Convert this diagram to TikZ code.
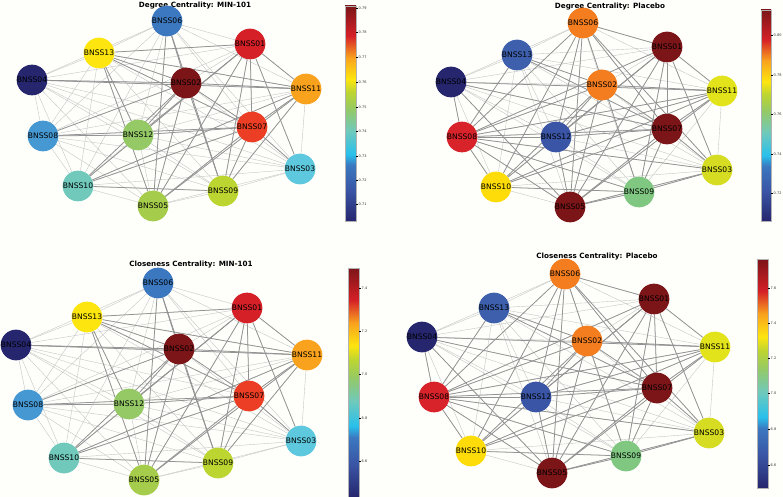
\documentclass[tikz,border=0pt]{standalone}
\usepackage{fontspec}
\setmainfont{DejaVu Sans}
\usetikzlibrary{backgrounds}

\definecolor{bgcol}{RGB}{254,254,251}
\definecolor{cnavy}{RGB}{38,38,110}
\definecolor{cblue}{RGB}{59,120,192}
\definecolor{clblue}{RGB}{70,152,210}
\definecolor{ccyan}{RGB}{94,200,222}
\definecolor{cteal}{RGB}{112,201,187}
\definecolor{clgreen}{RGB}{148,201,102}
\definecolor{cygA}{RGB}{165,204,74}
\definecolor{cygB}{RGB}{189,213,48}
\definecolor{cyellow}{RGB}{253,229,15}
\definecolor{corange}{RGB}{249,162,30}
\definecolor{credor}{RGB}{236,62,36}
\definecolor{cred}{RGB}{213,32,39}
\definecolor{cdred}{RGB}{124,21,24}
\definecolor{porange}{RGB}{244,125,32}
\definecolor{pblue}{RGB}{61,95,172}
\definecolor{pblueB}{RGB}{58,85,165}
\definecolor{plyellow}{RGB}{226,227,26}
\definecolor{pygreen}{RGB}{213,220,34}
\definecolor{pred}{RGB}{216,35,42}
\definecolor{pyellow}{RGB}{253,220,10}
\definecolor{pgreen}{RGB}{128,200,130}
\definecolor{sblue}{RGB}{58,84,164}
\definecolor{scyan}{RGB}{40,192,236}

\pgfdeclareverticalshading{jetbar}{100bp}{color(0bp)=(cnavy); color(25bp)=(cnavy);
  color(32bp)=(sblue); color(38bp)=(cblue); color(40.5bp)=(scyan); color(46bp)=(cteal);
  color(51bp)=(clgreen); color(55bp)=(cygB); color(58bp)=(cyellow); color(63bp)=(corange);
  color(68bp)=(cred); color(75bp)=(cdred); color(100bp)=(cdred)}

\newcommand{\ids}{01,02,03,04,05,06,07,08,09,10,11,12,13}
\newcommand{\minedges}{13/01,13/02,13/11,13/07,13/12,13/05,02/11,02/07,02/08,02/12,02/05,
  02/09,02/06,02/10,01/07,01/11,01/09,01/12,01/03,01/05,01/10,08/12,08/07,12/07,10/09,
  10/07,10/11,05/07,05/11,05/06,09/11,09/07,07/03,07/11,04/02,04/11,06/09}
\newcommand{\plaedges}{08/01,08/02,08/06,08/07,08/11,08/12,08/05,08/09,08/10,08/03,05/06,
  05/02,05/01,05/07,05/11,05/03,05/09,05/12,05/04,06/10,06/07,06/01,06/12,06/09,06/03,
  01/07,01/11,01/03,01/09,01/10,01/12,07/11,07/03,07/09,07/10,07/04,07/13,07/02,02/11,
  02/10,02/12,13/08,13/02,09/03,09/10,04/11,04/08,10/11,12/07,12/11}

\begin{document}
\begin{tikzpicture}[x=1pt,y=-1pt,
  bnss/.style={circle,minimum size=28pt,inner sep=0pt,font=\fontsize{7.6}{8}\selectfont},
  title/.style={font=\fontsize{7.2}{8}\selectfont\bfseries},
  lightedge/.style={draw=gray!45,line width=0.4pt},
  heavyedge/.style={draw=gray!85,line width=0.75pt},
  cbar/.style={draw=gray!60,line width=0.3pt,shading=jetbar},
  ticklab/.style={font=\fontsize{3.5}{4}\selectfont,anchor=west,inner sep=0.5pt,text=black!80}]
\useasboundingbox (0,0) rectangle (783,497);
\begin{scope}[on background layer]
  \fill[bgcol] (0,0) rectangle (783,497);
\end{scope}

% Degree centrality, MIN-101
\node[title] (ta) at (195,6) {Degree Centrality: MIN-101};
\foreach \k/\x/\y/\c in {01/250/44/cred,02/186/83/cdred,03/300/169/ccyan,04/32/80/cnavy,
  05/153/206/cygA,06/167/21/cblue,07/252/127/credor,08/43/136/clblue,09/223/191/cygB,
  10/78/186/cteal,11/306/89/corange,12/138/135/clgreen,13/99/53/cyellow}
  \node[bnss,fill=\c] (a\k) at (\x,\y) {BNSS\k};

% Degree centrality, Placebo
\node[title] (tb) at (610,7) {Degree Centrality: Placebo};
\foreach \k/\x/\y/\c in {01/667/47/cdred,02/602/85/porange,03/717/170/pygreen,04/451/82/cnavy,
  05/570/207/cdred,06/583/23/porange,07/667/129/cdred,08/462/137/pred,09/639/192/pgreen,
  10/496/187/pyellow,11/722/91/plyellow,12/556/137/pblueB,13/517/55/pblue}
  \node[bnss,fill=\c] (b\k) at (\x,\y) {BNSS\k};

% Closeness centrality, MIN-101
\node[title] (tc) at (191,265) {Closeness Centrality: MIN-101};
\foreach \k/\x/\y/\c in {01/247/308/cred,02/179/349/cdred,03/301/441/ccyan,04/16/345/cnavy,
  05/144/480/cygA,06/158/283/cblue,07/249/396/credor,08/28/405/clblue,09/218/463/cygB,
  10/64/458/cteal,11/307/355/corange,12/129/404/clgreen,13/87/317/cyellow}
  \node[bnss,fill=\c] (c\k) at (\x,\y) {BNSS\k};

% Closeness centrality, Placebo
\node[title] (td) at (597,257) {Closeness Centrality: Placebo};
\foreach \k/\x/\y/\c in {01/654/299/cdred,02/587/341/porange,03/709/433/pygreen,04/422/337/cnavy,
  05/552/473/cdred,06/565/274/porange,07/657/388/cdred,08/434/397/pred,09/626/456/pgreen,
  10/471/451/pyellow,11/715/347/plyellow,12/536/397/pblueB,13/494/308/pblue}
  \node[bnss,minimum size=30pt,fill=\c] (d\k) at (\x,\y) {BNSS\k};

% edges behind the nodes
\begin{scope}[on background layer]
  \foreach \p in {a,b,c,d}
    \foreach \i [count=\ci] in \ids
      \foreach \j [count=\cj] in \ids
        {\ifnum\cj>\ci \draw[lightedge] (\p\i) -- (\p\j);\fi}
  \foreach \p in {a,c}
    \foreach \u/\v in \minedges \draw[heavyedge] (\p\u) -- (\p\v);
  \foreach \p in {b,d}
    \foreach \u/\v in \plaedges \draw[heavyedge] (\p\u) -- (\p\v);
\end{scope}

% colour bars
\shadedraw[cbar] (345,6) rectangle (356,221);
\foreach \v/\y [count=\n] in {0.79/8,0.78/32,0.77/57,0.76/82,0.75/107,0.74/131,0.73/156,0.72/180,0.71/204}
  {\draw[line width=0.3pt] (356,\y) -- (358,\y);
   \node[ticklab] (ka\n) at (358,\y) {\v};}
\shadedraw[cbar] (761,10) rectangle (771,221);
\foreach \v/\y [count=\n] in {0.80/35,0.78/75,0.76/114,0.74/154,0.72/193}
  {\draw[line width=0.3pt] (771,\y) -- (773,\y);
   \node[ticklab] (kb\n) at (773,\y) {\v};}
\shadedraw[cbar] (348,268) rectangle (359,497);
\foreach \v/\y [count=\n] in {7.4/288,7.2/331,7.0/374,6.8/418,6.6/461}
  {\draw[line width=0.3pt] (359,\y) -- (361,\y);
   \node[ticklab] (kc\n) at (361,\y) {\v};}
\shadedraw[cbar] (757,259) rectangle (768,488);
\foreach \v/\y [count=\n] in {7.6/288,7.4/323,7.2/358,7.0/393,6.8/429,6.6/465}
  {\draw[line width=0.3pt] (768,\y) -- (770,\y);
   \node[ticklab] (kd\n) at (770,\y) {\v};}
\end{tikzpicture}
\end{document}
